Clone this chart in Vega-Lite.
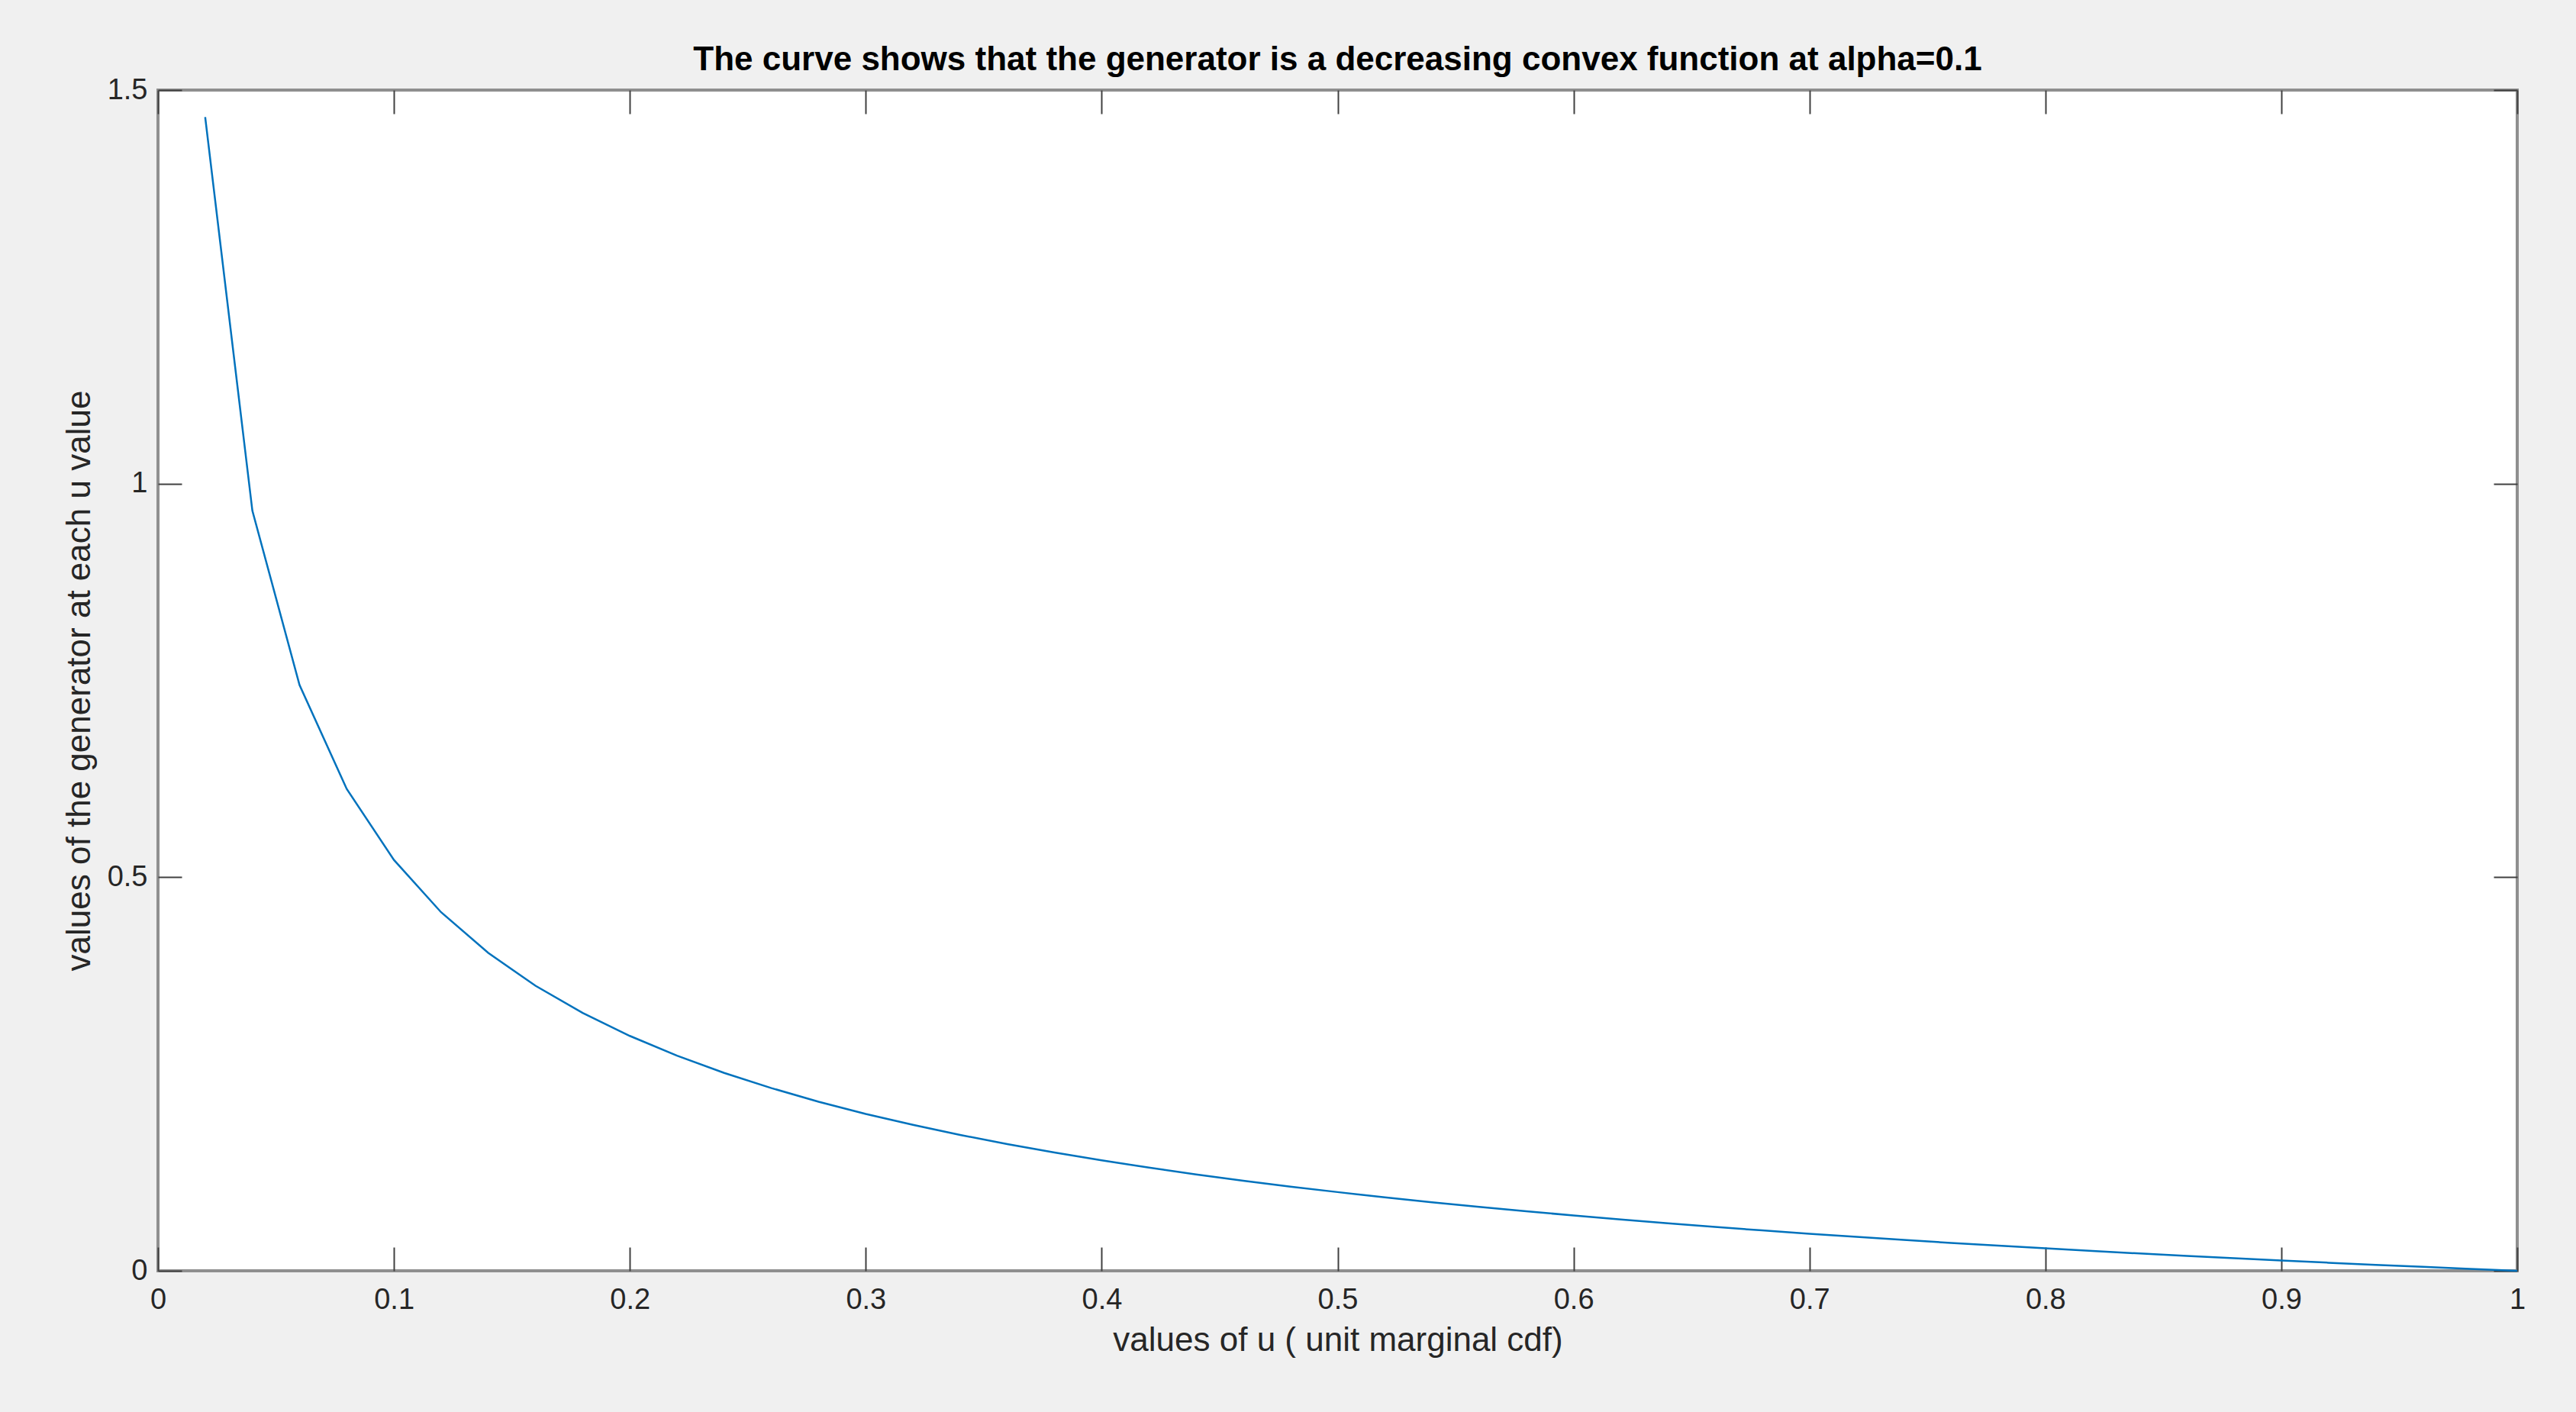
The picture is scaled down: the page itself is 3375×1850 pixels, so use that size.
{
  "$schema": "https://vega.github.io/schema/vega-lite/v6.json",
  "width": 3091,
  "height": 1547,
  "autosize": {"type": "none"},
  "padding": {"left": 207, "top": 118, "right": 77, "bottom": 185},
  "background": "#f0f0f0",
  "config": {
    "view": {"fill": "#ffffff", "stroke": "#8f8f8f", "strokeWidth": 4},
    "font": "Liberation Sans"
  },
  "title": {
    "text": "The curve shows that the generator is a decreasing convex function at alpha=0.1",
    "font": "Liberation Sans",
    "fontSize": 44,
    "fontWeight": "bold",
    "color": "#000000",
    "anchor": "middle",
    "baseline": "alphabetic",
    "offset": -37
  },
  "data": {
    "values": [
      {"u": 0.02, "g": 1.4657},
      {"u": 0.04, "g": 0.9657},
      {"u": 0.06, "g": 0.7442},
      {"u": 0.08, "g": 0.6121},
      {"u": 0.10, "g": 0.5220},
      {"u": 0.12, "g": 0.4555},
      {"u": 0.14, "g": 0.4038},
      {"u": 0.16, "g": 0.3621},
      {"u": 0.18, "g": 0.3276},
      {"u": 0.20, "g": 0.2984},
      {"u": 0.22, "g": 0.2733},
      {"u": 0.24, "g": 0.2514},
      {"u": 0.26, "g": 0.2321},
      {"u": 0.28, "g": 0.2148},
      {"u": 0.30, "g": 0.1993},
      {"u": 0.32, "g": 0.1854},
      {"u": 0.34, "g": 0.1726},
      {"u": 0.36, "g": 0.1609},
      {"u": 0.38, "g": 0.1502},
      {"u": 0.40, "g": 0.1403},
      {"u": 0.42, "g": 0.1311},
      {"u": 0.44, "g": 0.1225},
      {"u": 0.46, "g": 0.1145},
      {"u": 0.48, "g": 0.1070},
      {"u": 0.50, "g": 0.1000},
      {"u": 0.52, "g": 0.0934},
      {"u": 0.54, "g": 0.0871},
      {"u": 0.56, "g": 0.0812},
      {"u": 0.58, "g": 0.0756},
      {"u": 0.60, "g": 0.0703},
      {"u": 0.62, "g": 0.0652},
      {"u": 0.64, "g": 0.0604},
      {"u": 0.66, "g": 0.0557},
      {"u": 0.68, "g": 0.0513},
      {"u": 0.70, "g": 0.0471},
      {"u": 0.72, "g": 0.0431},
      {"u": 0.74, "g": 0.0392},
      {"u": 0.76, "g": 0.0355},
      {"u": 0.78, "g": 0.0319},
      {"u": 0.80, "g": 0.0285},
      {"u": 0.82, "g": 0.0252},
      {"u": 0.84, "g": 0.0220},
      {"u": 0.86, "g": 0.0189},
      {"u": 0.88, "g": 0.0159},
      {"u": 0.90, "g": 0.0131},
      {"u": 0.92, "g": 0.0103},
      {"u": 0.94, "g": 0.0076},
      {"u": 0.96, "g": 0.0050},
      {"u": 0.98, "g": 0.0025},
      {"u": 1.00, "g": 0.0000}
    ]
  },
  "layer": [
    {
      "mark": {"type": "line", "color": "#0072BD", "strokeWidth": 2.5},
      "encoding": {
        "x": {
          "field": "u",
          "type": "quantitative",
          "scale": {"domain": [0, 1], "nice": false, "zero": false},
          "axis": {
            "orient": "bottom",
            "title": "values of u ( unit marginal cdf)",
            "values": [0, 0.1, 0.2, 0.3, 0.4, 0.5, 0.6, 0.7, 0.8, 0.9, 1],
            "format": "~g",
            "domain": false,
            "grid": false,
            "tickSize": -31,
            "tickColor": "#404040",
            "tickWidth": 2,
            "labelFont": "Liberation Sans",
            "labelFontSize": 38,
            "labelColor": "#262626",
            "labelPadding": 50,
            "labelFlush": false,
            "labelOverlap": false,
            "titleFont": "Liberation Sans",
            "titleFontSize": 44,
            "titleFontWeight": "normal",
            "titleColor": "#262626",
            "titleBaseline": "alphabetic",
            "titleY": 104
          }
        },
        "y": {
          "field": "g",
          "type": "quantitative",
          "scale": {"domain": [0, 1.5], "nice": false},
          "axis": {
            "orient": "left",
            "title": "values of the generator at each u value",
            "values": [0, 0.5, 1, 1.5],
            "format": "~g",
            "domain": false,
            "grid": false,
            "tickSize": -31,
            "tickColor": "#404040",
            "tickWidth": 2,
            "labelFont": "Liberation Sans",
            "labelFontSize": 38,
            "labelColor": "#262626",
            "labelPadding": 45,
            "labelFlush": false,
            "labelOverlap": false,
            "titleFont": "Liberation Sans",
            "titleFontSize": 44,
            "titleFontWeight": "normal",
            "titleColor": "#262626",
            "titleBaseline": "alphabetic",
            "titleX": -90
          }
        }
      }
    },
    {
      "mark": {"type": "line", "opacity": 0},
      "encoding": {
        "x": {
          "field": "u",
          "type": "quantitative",
          "scale": {"domain": [0, 1], "nice": false, "zero": false},
          "axis": {
            "orient": "top",
            "title": null,
            "labels": false,
            "values": [0, 0.1, 0.2, 0.3, 0.4, 0.5, 0.6, 0.7, 0.8, 0.9, 1],
            "domain": false,
            "grid": false,
            "tickSize": -31,
            "tickColor": "#404040",
            "tickWidth": 2
          }
        },
        "y": {
          "field": "g",
          "type": "quantitative",
          "scale": {"domain": [0, 1.5], "nice": false},
          "axis": {
            "orient": "right",
            "title": null,
            "labels": false,
            "values": [0, 0.5, 1, 1.5],
            "domain": false,
            "grid": false,
            "tickSize": -31,
            "tickColor": "#404040",
            "tickWidth": 2
          }
        }
      }
    }
  ],
  "resolve": {"axis": {"x": "independent", "y": "independent"}}
}
